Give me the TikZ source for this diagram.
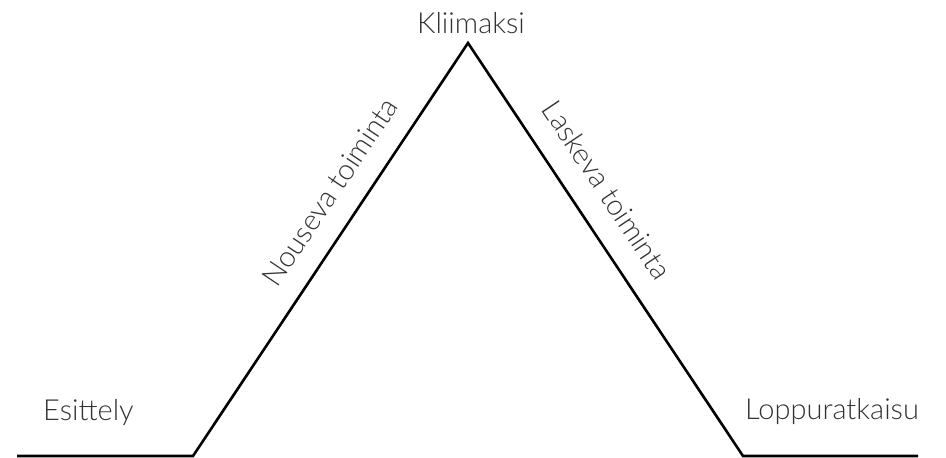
\documentclass[tikz,border=0pt]{standalone}
\usepackage{fontspec}
\setmainfont{Lato}[UprightFont={* Light}]
\begin{document}
\begin{tikzpicture}[x=1pt,y=-1pt,
  lbl/.style={font=\fontsize{29}{33}\selectfont, text=black!80, inner sep=0pt},
  plot/.style={line width=2.6pt, line join=miter, black}]
\useasboundingbox (0,0) rectangle (946,458);
\coordinate (s) at (17,456);
\coordinate (a) at (193,456);
\coordinate (p) at (468,43);
\coordinate (b) at (743,456);
\coordinate (e) at (918,456);
\draw[plot] (s) -- (a) -- (p) -- (b) -- (e);
\node[lbl, anchor=base west] (esit) at (43,420) {Esittely};
\node[lbl, anchor=base] (klii) at (471,33) {Kliimaksi};
\node[lbl, anchor=base west] (lopp) at (745,419) {Loppuratkaisu};
\node[lbl, rotate=56.3] (nous) at (330,192) {Nouseva toiminta};
\node[lbl, rotate=-56.3] (lask) at (607,190) {Laskeva toiminta};
\end{tikzpicture}
\end{document}
